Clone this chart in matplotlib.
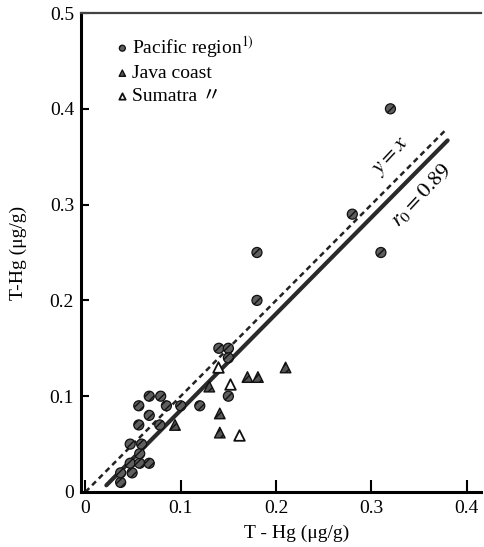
import numpy as np
import matplotlib
matplotlib.use('Agg')
import matplotlib.pyplot as plt

plt.rcParams['font.family'] = ['Liberation Serif', 'DejaVu Serif']
plt.rcParams['mathtext.fontset'] = 'stix'

# Pacific region (hatched circles)
pac_x = [0.037, 0.037, 0.049, 0.047, 0.057, 0.067, 0.057, 0.047, 0.059, 0.056,
         0.078, 0.067, 0.056, 0.085, 0.100, 0.120, 0.067, 0.079, 0.150, 0.140,
         0.150, 0.150, 0.180, 0.180, 0.280, 0.310, 0.320]
pac_y = [0.010, 0.020, 0.020, 0.030, 0.030, 0.030, 0.040, 0.050, 0.050, 0.070,
         0.070, 0.080, 0.090, 0.090, 0.090, 0.090, 0.100, 0.100, 0.100, 0.150,
         0.150, 0.140, 0.200, 0.250, 0.290, 0.250, 0.400]

# Java coast (filled triangles)
java_x = [0.094, 0.130, 0.141, 0.141, 0.170, 0.181, 0.210]
java_y = [0.070, 0.110, 0.082, 0.062, 0.120, 0.120, 0.130]

# Sumatra (open triangles)
sum_x = [0.139, 0.152, 0.161]
sum_y = [0.130, 0.113, 0.060]

# lines
eq_x = [0.0, 0.379]
eq_y = [0.0, 0.379]
fit_x = [0.022, 0.380]
fit_y = [0.007, 0.367]

xticks = [0, 0.1, 0.2, 0.3, 0.4]
xtick_labels = ['0', '0.1', '0.2', '0.3', '0.4']
yticks = [0, 0.1, 0.2, 0.3, 0.4, 0.5]
ytick_labels = ['0', '0.1', '0.2', '0.3', '0.4', '0.5']

fig = plt.figure(figsize=(4.84, 5.47), dpi=100)
ax = fig.add_axes([81/484, 55/547, 400/484, 479/547])

ax.plot(eq_x, eq_y, color='#222222', lw=1.8, dashes=(2.2, 1.6), zorder=2)
ax.plot(fit_x, fit_y, color='#2a2a2a', lw=3.0, solid_capstyle='round', zorder=2)

ax.scatter(pac_x, pac_y, s=52, marker='o', facecolor='#5e5e5e', edgecolor='#111111',
           linewidth=0.9, hatch='////', zorder=3, label='Pacific region$^{1)}$')
ax.scatter(java_x, java_y, s=58, marker='^', facecolor='#555555', edgecolor='#111111',
           linewidth=1.0, hatch='////', zorder=3, label='Java coast')
ax.scatter(sum_x, sum_y, s=58, marker='^', facecolor='white', edgecolor='#111111',
           linewidth=1.3, zorder=3, label='Sumatra \u3003')

ax.text(0.322, 0.349, '$y = x$', fontsize=16, rotation=47, ha='center', va='center')
ax.text(0.352, 0.310, '$r_0 = 0.89$', fontsize=16, rotation=47, ha='center', va='center')

leg = ax.legend(loc='upper left', bbox_to_anchor=(0.045, 0.985), frameon=False,
                fontsize=14, handletextpad=0.0, labelspacing=0.25, markerscale=0.6,
                handlelength=1.0, borderaxespad=0.3)
for t in leg.get_texts():
    t.set_family(['Liberation Serif', 'Noto Sans CJK JP'])

ax.set_xlim(-0.0046, 0.415)
ax.set_ylim(0, 0.5)
ax.set_xticks(xticks)
ax.set_xticklabels(xtick_labels)
ax.set_yticks(yticks)
ax.set_yticklabels(ytick_labels)
ax.tick_params(axis='x', direction='in', length=9, width=1.5, labelsize=14, pad=6)
ax.tick_params(axis='y', direction='in', length=6, width=1.5, labelsize=14, pad=5)

ax.spines['right'].set_visible(False)
ax.spines['left'].set_linewidth(2.2)
ax.spines['bottom'].set_linewidth(2.2)
ax.spines['top'].set_linewidth(1.6)
ax.spines['top'].set_color('#444444')

ax.set_xlabel('T - Hg (\u03bcg/g)', fontsize=14)
ax.xaxis.set_label_coords(0.54, -0.068)
ax.set_ylabel('T-Hg (\u03bcg/g)', fontsize=14)
ax.yaxis.set_label_coords(-0.135, 0.5)

fig.savefig('out.png', dpi=100)
